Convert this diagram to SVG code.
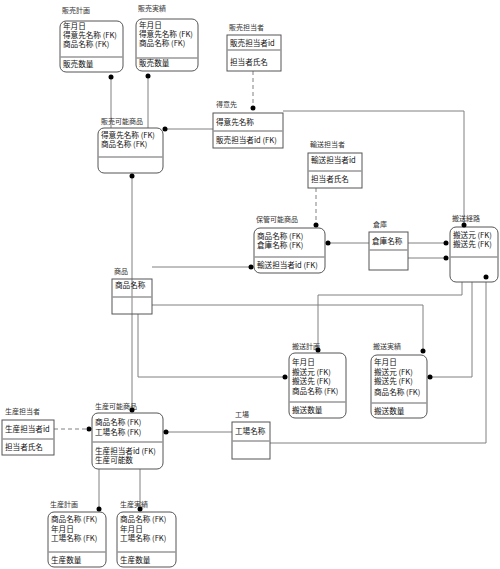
<svg xmlns="http://www.w3.org/2000/svg" width="500" height="569" viewBox="0 0 500 569">
<style>
.bg{fill:#fff}
.box{fill:#fff;stroke:#555;stroke-width:1}
.div{stroke:#999;stroke-width:1.5}
.t{font-family:"Noto Sans CJK JP","Liberation Sans",sans-serif;font-size:7.6px;fill:#111}
.lb{font-family:"Noto Sans CJK JP","Liberation Sans",sans-serif;font-size:7px;fill:#333}
.ln{fill:none;stroke:#808080;stroke-width:1}
.dash{fill:none;stroke:#808080;stroke-width:1;stroke-dasharray:4 3}
.dot{fill:#000}
</style>
<defs>
<clipPath id="c1"><rect x="227" y="35" width="54" height="36"/></clipPath>
<clipPath id="c2"><rect x="308" y="153" width="54" height="35"/></clipPath>
<clipPath id="c3"><rect x="450" y="227" width="48" height="55"/></clipPath>
<clipPath id="c4"><rect x="2" y="420" width="52" height="35"/></clipPath>
</defs>
<rect class="bg" width="500" height="569"/>
<g id="connectors">
<path class="ln" d="M111,77V128"/>
<path class="ln" d="M148,76V128"/>
<path class="ln" d="M165,129H213"/>
<path class="dash" d="M253,71V108"/>
<path class="ln" d="M283,111H464V225"/>
<path class="dash" d="M316,188V225"/>
<path class="ln" d="M328,243H369"/>
<path class="ln" d="M408,243H446"/>
<path class="ln" d="M408,258H446"/>
<path class="ln" d="M152,267H251"/>
<path class="ln" d="M132,176V410"/>
<path class="ln" d="M152,305H423V351"/>
<path class="ln" d="M138,314V377H285"/>
<path class="ln" d="M462,282V295H318V350"/>
<path class="ln" d="M472,282V377H430"/>
<path class="ln" d="M270,443H486V277"/>
<path class="ln" d="M166,432H232"/>
<path class="dash" d="M54,429H89"/>
<path class="ln" d="M99,469V509"/>
<path class="ln" d="M140,469V509"/>
</g>
<g id="e-hanbai-keikaku">
<text class="lb" x="62" y="13">販売計画</text>
<rect class="box" x="60" y="21" width="63" height="51" rx="6"/>
<line class="div" x1="60" y1="57" x2="123" y2="57"/>
<text class="t" x="63" y="29">年月日</text>
<text class="t" x="63" y="38">得意先名称 (FK)</text>
<text class="t" x="63" y="47">商品名称 (FK)</text>
<text class="t" x="63" y="67">販売数量</text>
</g>
<g id="e-hanbai-jisseki">
<text class="lb" x="138" y="11">販売実績</text>
<rect class="box" x="136" y="19" width="62" height="52" rx="6"/>
<line class="div" x1="136" y1="58" x2="198" y2="58"/>
<text class="t" x="139" y="28">年月日</text>
<text class="t" x="139" y="37">得意先名称 (FK)</text>
<text class="t" x="139" y="46">商品名称 (FK)</text>
<text class="t" x="139" y="66">販売数量</text>
</g>
<g id="e-hanbai-tantousha">
<text class="lb" x="229" y="30">販売担当者</text>
<rect class="box" x="227" y="35" width="54" height="36"/>
<line class="div" x1="227" y1="50" x2="281" y2="50"/>
<text class="t" x="230" y="46" clip-path="url(#c1)">販売担当者id</text>
<text class="t" x="230" y="65">担当者氏名</text>
</g>
<g id="e-tokuisaki">
<text class="lb" x="216" y="107">得意先</text>
<rect class="box" x="213" y="113" width="70" height="35"/>
<line class="div" x1="213" y1="131" x2="283" y2="131"/>
<text class="t" x="216" y="125">得意先名称</text>
<text class="t" x="216" y="143">販売担当者id (FK)</text>
</g>
<g id="e-hanbai-kanou">
<text class="lb" x="101" y="124">販売可能商品</text>
<rect class="box" x="98" y="128" width="65" height="45" rx="6"/>
<line class="div" x1="98" y1="157" x2="163" y2="157"/>
<text class="t" x="101" y="138">得意先名称 (FK)</text>
<text class="t" x="101" y="147">商品名称 (FK)</text>
</g>
<g id="e-yusou-tantousha">
<text class="lb" x="310" y="147">輸送担当者</text>
<rect class="box" x="308" y="153" width="54" height="35"/>
<line class="div" x1="308" y1="171" x2="362" y2="171"/>
<text class="t" x="311" y="163" clip-path="url(#c2)">輸送担当者id</text>
<text class="t" x="311" y="182">担当者氏名</text>
</g>
<g id="e-hokan-kanou">
<text class="lb" x="256" y="222">保管可能商品</text>
<rect class="box" x="254" y="228" width="71" height="45" rx="6"/>
<line class="div" x1="254" y1="257" x2="325" y2="257"/>
<text class="t" x="257" y="239">商品名称 (FK)</text>
<text class="t" x="257" y="248">倉庫名称 (FK)</text>
<text class="t" x="257" y="268">輸送担当者id (FK)</text>
</g>
<g id="e-souko">
<text class="lb" x="373" y="227">倉庫</text>
<rect class="box" x="369" y="232" width="39" height="38"/>
<line class="div" x1="369" y1="250" x2="408" y2="250"/>
<text class="t" x="372" y="244">倉庫名称</text>
</g>
<g id="e-hansou-keiro">
<text class="lb" x="452" y="221">搬送経路</text>
<rect class="box" x="450" y="227" width="48" height="55" rx="6"/>
<line class="div" x1="450" y1="257" x2="498" y2="257"/>
<text class="t" x="453" y="238" clip-path="url(#c3)">搬送元 (FK)</text>
<text class="t" x="453" y="247" clip-path="url(#c3)">搬送先 (FK)</text>
</g>
<g id="e-shouhin">
<text class="lb" x="114" y="274">商品</text>
<rect class="box" x="112" y="279" width="40" height="35" style="fill:none"/>
<line class="div" x1="112" y1="297" x2="152" y2="297"/>
<text class="t" x="115" y="288">商品名称</text>
</g>
<g id="e-hansou-keikaku">
<text class="lb" x="292" y="349">搬送計画</text>
<rect class="box" x="289" y="353" width="57" height="65" rx="6"/>
<line class="div" x1="289" y1="402" x2="346" y2="402"/>
<text class="t" x="292" y="365">年月日</text>
<text class="t" x="292" y="375">搬送元 (FK)</text>
<text class="t" x="292" y="384">搬送先 (FK)</text>
<text class="t" x="292" y="394">商品名称 (FK)</text>
<text class="t" x="292" y="413">搬送数量</text>
</g>
<g id="e-hansou-jisseki">
<text class="lb" x="373" y="349">搬送実績</text>
<rect class="box" x="371" y="355" width="56" height="63" rx="6"/>
<line class="div" x1="371" y1="403" x2="427" y2="403"/>
<text class="t" x="374" y="365">年月日</text>
<text class="t" x="374" y="375">搬送元 (FK)</text>
<text class="t" x="374" y="384">搬送先 (FK)</text>
<text class="t" x="374" y="395">商品名称 (FK)</text>
<text class="t" x="374" y="414">搬送数量</text>
</g>
<g id="e-seisan-tantousha">
<text class="lb" x="5" y="414">生産担当者</text>
<rect class="box" x="2" y="420" width="52" height="35"/>
<line class="div" x1="2" y1="439" x2="54" y2="439"/>
<text class="t" x="5" y="432" clip-path="url(#c4)">生産担当者id</text>
<text class="t" x="5" y="450">担当者氏名</text>
</g>
<g id="e-seisan-kanou">
<text class="lb" x="95" y="409">生産可能商品</text>
<rect class="box" x="92" y="413" width="71" height="56" rx="6"/>
<line class="div" x1="92" y1="442" x2="163" y2="442"/>
<text class="t" x="95" y="425">商品名称 (FK)</text>
<text class="t" x="95" y="435">工場名称 (FK)</text>
<text class="t" x="95" y="454">生産担当者id (FK)</text>
<text class="t" x="95" y="463">生産可能数</text>
</g>
<g id="e-koujou">
<text class="lb" x="235" y="417">工場</text>
<rect class="box" x="232" y="422" width="38" height="37"/>
<line class="div" x1="232" y1="441" x2="270" y2="441"/>
<text class="t" x="235" y="434">工場名称</text>
</g>
<g id="e-seisan-keikaku">
<text class="lb" x="50" y="507">生産計画</text>
<rect class="box" x="48" y="512" width="58" height="55" rx="6"/>
<line class="div" x1="48" y1="552" x2="106" y2="552"/>
<text class="t" x="51" y="522">商品名称 (FK)</text>
<text class="t" x="51" y="532">年月日</text>
<text class="t" x="51" y="541">工場名称 (FK)</text>
<text class="t" x="51" y="563">生産数量</text>
</g>
<g id="e-seisan-jisseki">
<text class="lb" x="120" y="507">生産実績</text>
<rect class="box" x="117" y="512" width="59" height="55" rx="6"/>
<line class="div" x1="117" y1="552" x2="176" y2="552"/>
<text class="t" x="120" y="522">商品名称 (FK)</text>
<text class="t" x="120" y="532">年月日</text>
<text class="t" x="120" y="541">工場名称 (FK)</text>
<text class="t" x="120" y="563">生産数量</text>
</g>
<g id="dots">
<circle class="dot" cx="111" cy="77" r="2.5"/>
<circle class="dot" cx="148" cy="76" r="2.5"/>
<circle class="dot" cx="165" cy="129" r="2.5"/>
<circle class="dot" cx="253" cy="108" r="2.5"/>
<circle class="dot" cx="464" cy="225" r="2.5"/>
<circle class="dot" cx="316" cy="225" r="2.5"/>
<circle class="dot" cx="328" cy="243" r="2.5"/>
<circle class="dot" cx="446" cy="243" r="2.5"/>
<circle class="dot" cx="446" cy="258" r="2.5"/>
<circle class="dot" cx="251" cy="267" r="2.5"/>
<circle class="dot" cx="132" cy="176" r="2.5"/>
<circle class="dot" cx="132" cy="410" r="2.5"/>
<circle class="dot" cx="423" cy="351" r="2.5"/>
<circle class="dot" cx="285" cy="377" r="2.5"/>
<circle class="dot" cx="318" cy="350" r="2.5"/>
<circle class="dot" cx="430" cy="377" r="2.5"/>
<circle class="dot" cx="486" cy="277" r="2.5"/>
<circle class="dot" cx="166" cy="432" r="2.5"/>
<circle class="dot" cx="89" cy="429" r="2.5"/>
<circle class="dot" cx="99" cy="509" r="2.5"/>
<circle class="dot" cx="140" cy="509" r="2.5"/>
</g>
</svg>
